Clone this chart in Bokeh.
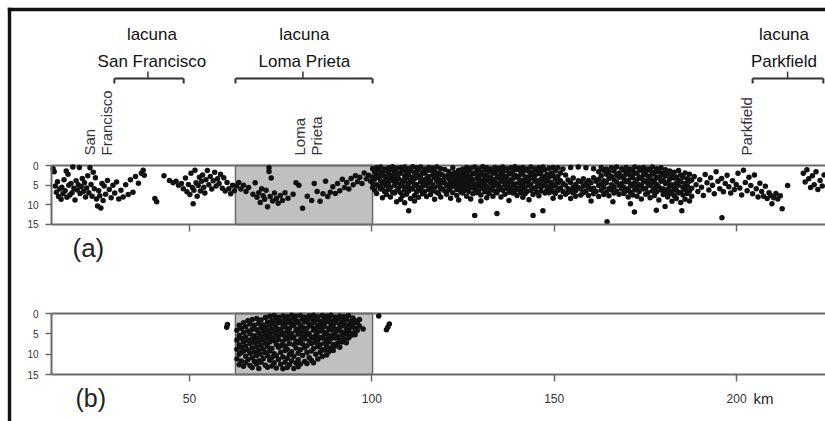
import math
from bokeh.plotting import figure
from bokeh.models import Range1d, FixedTicker, LinearAxis
from bokeh.embed import file_html
from bokeh.resources import INLINE
from bokeh.core.properties import value

FONT = "Liberation Sans"
W, H = 825, 421

# pixel calibration of the reference drawing (used for layout only)
KM0_PX, PX_PER_KM = 6.65, 3.647
A_TOP_PX, A_PX_PER_KM = 165.0, 3.933
B_TOP_PX, B_PX_PER_KM = 313.0, 4.067
BASE_SHIFT = 0.35  # em: empirical offset of the rendered baseline


def kx(px):
    return (px - KM0_PX) / PX_PER_KM


def da(py):
    return (py - A_TOP_PX) / A_PX_PER_KM


def db(py):
    return (py - B_TOP_PX) / B_PX_PER_KM


X_LEFT = kx(51)
X_END = kx(W)

km_ticks = [50, 100, 150, 200]
depth_ticks = [0, 5, 10, 15]

lacuna_names = ["San Francisco", "Loma Prieta", "Parkfield"]
lacuna_start = [29.4, 62.6, 204.4]
lacuna_end = [48.4, 100.2, 223.8]
lacuna_mid = [38.6, 81.1, 214.0]
lacuna_text_x = [39.7, 81.5, 213.0]

place_lines = ["San", "Francisco", "Loma", "Prieta", "Parkfield"]
place_x = [23.9, 28.6, 81.5, 86.2, 204.1]

gap_start, gap_end = 62.6, 100.2

# ---- panel (a): hypocentres (km along fault, depth km) ----
sf_km = [12.6, 12.9, 13.2, 13.5, 13.8, 14.1, 14.4, 14.8, 15.0, 15.3, 15.6, 15.9, 16.2, 16.4, 16.7,
         16.9, 17.2, 17.5, 17.8, 18.0, 18.3, 18.6, 18.9, 19.2, 19.5, 19.8, 20.0, 20.3, 20.6, 20.9,
         21.2, 21.5, 21.8, 22.1, 22.4, 22.7, 23.0, 23.3, 23.6, 23.9, 24.2, 24.5, 24.8, 25.1, 25.4,
         25.7, 26.0, 26.3, 26.6, 27.0, 27.5, 28.0, 28.5, 29.0, 29.5, 30.0, 30.6, 31.2, 31.8, 32.5,
         33.2, 33.8, 34.5, 35.2, 36.0, 36.8, 37.3, 37.6, 40.5, 41.0, 43.0]
sf_depth = [0.8, 1.6, 5.2, 6.8, 4.1, 7.9, 6.0, 8.6, 5.5, 7.2, 3.6, 6.4, 1.4, 8.1, 2.2,
            5.0, 7.5, 4.6, 6.9, 0.4, 5.8, 8.8, 3.9, 6.2, 4.9, 0.5, 7.1, 5.4, 3.3, 6.6,
            4.4, 8.0, 5.7, 2.6, 6.9, 0.6, 4.8, 7.8, 1.7, 5.9, 3.1, 8.5, 10.3, 6.4, 7.7,
            10.8, 4.6, 8.9, 5.2, 7.3, 3.8, 6.1, 8.2, 5.0, 7.0, 4.2, 8.5, 6.3, 8.0, 4.9,
            7.4, 3.6, 6.8, 2.8, 4.5, 2.0, 1.2, 2.5, 8.4, 9.2, 2.6]

west_km = [44.5, 45.5, 46.3, 47.0, 47.8, 48.3, 48.9, 49.3, 49.7, 50.1, 50.4, 50.8, 51.0, 51.2, 51.5,
           51.8, 52.1, 52.4, 52.7, 53.0, 53.3, 53.6, 53.9, 54.2, 54.5, 54.9, 55.3, 55.7, 56.1, 56.5,
           56.9, 57.3, 57.7, 58.1, 58.5, 59.0, 59.4, 59.8, 60.3, 60.8, 61.3, 61.8, 62.3]
west_depth = [3.8, 4.4, 4.0, 5.0, 4.6, 5.9, 3.2, 6.7, 4.8, 7.4, 2.0, 5.6, 9.7, 6.3, 1.2,
              4.4, 7.8, 5.1, 3.0, 6.5, 4.0, 2.4, 5.5, 7.0, 3.6, 1.3, 4.9, 2.8, 6.0, 3.9,
              1.7, 5.2, 3.4, 4.6, 2.2, 5.8, 3.1, 6.5, 4.3, 5.9, 7.2, 5.0, 6.4]

lp_km = [62.9, 63.5, 64.1, 64.8, 65.5, 66.2, 67.4, 68.0, 68.5, 69.0, 69.4, 69.8, 70.2, 70.6, 71.0,
         71.4, 71.8, 71.8, 72.1, 72.4, 72.8, 73.3, 73.8, 74.3, 74.9, 75.5, 76.2, 77.0, 78.4, 79.2,
         80.0, 81.0, 82.3, 83.5, 84.2, 85.0, 85.8, 86.6, 87.3, 87.9, 88.6, 89.3, 90.0, 90.6, 91.2,
         91.9, 92.5, 93.1, 93.7, 94.3, 94.9, 95.5, 96.1, 96.7, 97.3, 97.9, 98.5, 99.1, 99.7]
lp_depth = [5.2, 4.3, 6.0, 5.0, 6.6, 5.6, 7.3, 4.4, 8.1, 6.9, 9.4, 5.9, 7.7, 8.6, 6.3,
            10.5, 0.6, 1.5, 7.9, 3.2, 9.0, 7.0, 8.4, 9.6, 7.6, 8.9, 6.9, 8.3, 7.3, 4.4,
            5.0, 10.9, 7.8, 8.9, 4.6, 6.6, 9.1, 7.2, 4.0, 7.9, 6.8, 5.4, 7.1, 4.6, 6.4,
            3.5, 5.6, 4.3, 6.0, 3.3, 4.9, 2.6, 4.1, 3.0, 4.6, 1.9, 3.4, 2.5, 4.0]

# dense central cloud, listed as columns of depths at each km position
core_km = [100.2, 100.8, 101.3, 101.9, 102.4, 102.9, 103.5, 104.0, 104.6, 105.1, 105.7, 106.2,
           106.8, 107.3, 107.9, 108.4, 109.0, 109.5, 110.1, 110.6, 111.2, 111.7, 112.3, 112.8,
           113.4, 113.9, 114.5, 115.0, 115.6, 116.1, 116.7, 117.2, 117.8, 118.3, 118.9, 119.4,
           120.0, 120.5, 121.1, 121.6, 122.2, 122.7, 123.3, 123.8, 124.4, 124.9, 125.5, 126.0,
           126.6, 127.1, 127.7, 128.2, 128.8, 129.3, 129.9, 130.4, 131.0, 131.5, 132.1, 132.6,
           133.2, 133.7, 134.3, 134.8, 135.4, 135.9, 136.5, 137.0, 137.6, 138.1, 138.7, 139.2,
           139.8, 140.3, 140.9, 141.4, 142.0, 142.5, 143.1, 143.6, 144.2, 144.7, 145.3, 145.8,
           146.4, 146.9, 147.5, 148.0, 148.6, 149.1, 149.7]
core_depths = [
    [0.8, 2.9, 4.4, 5.6], [1.6, 3.5, 6.3], [0.5, 2.2, 4.9, 7.1], [1.2, 3.0, 5.3],
    [0.4, 2.5, 3.9, 6.0], [1.8, 4.6, 5.9, 8.2], [0.9, 2.8, 4.1, 6.6], [1.4, 3.4, 5.1, 7.4],
    [0.6, 2.1, 4.4, 6.1], [1.0, 3.1, 5.5, 8.0], [0.3, 2.4, 3.8, 6.8], [1.5, 3.6, 5.0, 7.0],
    [0.7, 2.6, 4.3, 6.4, 9.2], [1.9, 3.3, 5.7], [0.5, 2.0, 4.7, 6.9, 8.6], [1.2, 3.8, 5.2, 7.7],
    [0.4, 2.7, 4.0, 6.2, 9.5], [1.6, 3.2, 5.4, 7.3], [0.8, 2.3, 4.6, 6.5, 11.5], [1.3, 3.7, 5.8, 8.4],
    [0.3, 2.9, 4.2, 6.0], [1.7, 3.4, 5.1, 7.6, 9.0], [0.6, 2.2, 4.8, 6.7], [1.1, 3.0, 5.6, 8.1],
    [0.4, 2.5, 4.1, 6.3], [1.8, 3.6, 5.3, 7.2], [0.9, 2.0, 4.5, 6.6], [1.4, 3.3, 5.0, 7.9],
    [0.5, 2.8, 4.3, 6.1], [1.2, 3.9, 5.7, 7.4], [0.7, 2.4, 4.9, 6.4], [1.6, 3.1, 5.5, 8.6],
    [0.4, 2.6, 4.0, 6.8], [1.9, 3.5, 5.2, 7.1], [0.8, 2.2, 4.6, 6.0, 8.0], [2.4, 3.8, 5.9],
    [1.0, 3.0, 4.4, 6.5], [2.7, 5.1, 7.3], [1.5, 3.4, 4.8, 6.2], [2.2, 4.1, 5.6, 8.3],
    [0.6, 2.9, 4.5, 6.9], [1.8, 3.7, 5.3], [2.5, 4.2, 6.1, 7.6], [1.2, 3.2, 5.0, 8.8],
    [2.0, 3.9, 5.8, 6.7], [0.9, 2.8, 4.6, 7.0], [1.6, 3.5, 5.4, 6.3], [0.5, 2.3, 4.3, 5.9, 7.8],
    [1.3, 3.1, 4.9, 6.6], [0.7, 2.6, 4.0, 5.6, 8.5], [1.9, 3.6, 5.2, 7.2], [0.4, 2.1, 4.7, 6.0, 12.7],
    [1.4, 3.3, 5.5, 6.9], [0.8, 2.7, 4.4, 6.4], [1.7, 3.8, 5.1, 7.5, 9.0], [0.3, 2.4, 4.1, 5.8],
    [1.1, 3.0, 4.8, 6.7], [0.6, 2.2, 3.9, 5.4, 8.2], [1.5, 3.4, 5.9, 7.1], [0.9, 2.9, 4.5, 6.2],
    [1.8, 3.6, 5.3, 7.8], [0.5, 2.0, 4.2, 6.5], [1.2, 3.2, 5.0, 6.9, 12.2], [0.7, 2.6, 4.6, 6.1],
    [1.6, 3.5, 5.6, 8.0], [0.4, 2.3, 4.0, 6.3], [1.3, 3.1, 4.9, 7.3], [0.8, 2.8, 4.4, 5.8],
    [1.9, 3.7, 5.4, 6.8, 8.9], [0.6, 2.1, 4.1, 6.0], [1.4, 3.3, 5.2, 7.0], [0.3, 2.5, 4.7, 6.4],
    [1.0, 3.0, 5.7, 7.6], [0.7, 2.7, 4.3, 6.2], [1.7, 3.8, 5.1, 6.9], [0.5, 2.2, 4.5, 5.9, 8.1],
    [1.2, 3.4, 5.5, 7.2], [0.9, 2.9, 4.2, 6.6], [1.5, 3.6, 5.0, 8.7], [0.4, 2.4, 4.8, 6.3],
    [1.8, 3.2, 5.8, 7.4, 12.7], [0.8, 2.6, 4.0, 6.0], [1.3, 3.9, 5.3, 6.8], [0.6, 2.1, 4.6, 7.7],
    [1.6, 3.5, 5.6, 6.5], [0.4, 2.8, 4.4, 11.5], [1.1, 3.3, 5.1, 7.0], [2.3, 4.0, 6.2],
    [0.7, 3.0, 5.4, 6.9], [1.9, 4.3, 5.8], [0.5, 2.6, 4.8, 6.6, 8.3],
]

mid_km = [150.3, 151.0, 151.7, 152.4, 153.1, 153.8, 154.5, 155.2, 155.9, 156.6, 157.3, 158.0,
          158.7, 159.4, 160.1, 160.8, 161.5, 162.2, 162.9, 163.6, 164.3, 164.5, 165.0, 165.7,
          166.1, 166.4, 167.1, 167.8, 168.5, 169.1, 169.7, 170.3, 170.9, 171.5, 172.0, 172.1,
          172.7, 173.3, 173.9, 174.5, 175.1, 175.7, 176.3, 176.9, 177.5, 178.0, 178.1, 178.7,
          179.3, 179.9, 180.4, 180.5, 181.1, 181.7, 182.3, 182.9, 183.5, 184.1, 184.7, 185.0,
          185.3, 185.9, 186.5, 187.1, 187.7]
mid_depths = [
    [1.4, 3.5, 5.2, 7.1], [0.6, 2.8, 4.4, 6.3], [1.9, 3.9, 5.7, 8.0], [0.9, 4.6, 6.6],
    [2.4, 5.0, 7.3], [3.7, 5.9, 6.8], [0.5, 4.3, 6.2, 8.4], [3.2, 5.5, 7.0],
    [4.8, 6.4, 7.8], [0.4, 3.9, 5.6], [4.1, 6.0, 7.5], [3.4, 5.2, 6.9],
    [0.6, 4.6, 6.5], [3.8, 5.4, 7.6], [4.4, 6.1, 9.0], [0.8, 3.1, 5.8, 7.2],
    [4.0, 6.6], [1.6, 3.5, 5.1, 7.9], [0.5, 2.6, 4.7, 6.3], [1.3, 3.9, 5.5, 7.4],
    [0.9, 2.2, 4.4, 6.8], [14.3], [1.7, 3.3, 5.9, 7.7], [0.6, 2.8, 4.9, 6.2],
    [9.2], [1.4, 3.6, 5.4, 7.0], [0.4, 2.4, 4.2, 6.5], [1.9, 3.0, 5.1, 7.3],
    [0.8, 2.7, 4.6, 6.0], [1.2, 3.4, 5.5, 7.1], [0.5, 2.2, 4.1, 6.4], [1.7, 3.8, 5.9, 8.0],
    [0.9, 2.6, 4.7, 6.8, 9.7], [1.4, 3.1, 5.2, 7.5], [11.8], [0.4, 2.0, 4.4, 6.2],
    [1.9, 3.6, 5.6, 7.8], [0.7, 2.9, 4.9, 6.6], [1.3, 3.3, 5.3, 8.5], [0.5, 2.4, 4.2, 6.0],
    [1.6, 3.9, 5.8, 7.3], [0.9, 2.7, 4.6, 6.9], [1.2, 3.4, 5.1, 8.2], [0.4, 2.2, 4.4, 6.4],
    [1.8, 3.7, 5.7, 7.6], [11.4], [0.8, 2.9, 4.8, 6.7], [1.5, 3.2, 5.4, 8.8],
    [0.6, 2.5, 4.0, 6.2], [1.9, 3.8, 5.9, 7.4], [10.4], [1.1, 2.7, 4.6, 6.9],
    [2.2, 4.3, 6.1, 8.0], [1.4, 3.5, 5.3, 7.2], [2.6, 4.9, 6.6, 9.1], [1.7, 3.2, 5.7, 7.7],
    [2.9, 4.5, 6.3, 8.4], [1.3, 3.8, 5.0, 7.0], [2.4, 4.1, 6.8, 9.4], [11.5],
    [3.0, 5.5, 7.5], [1.9, 4.6, 6.1, 8.6], [3.4, 5.2, 7.1], [2.2, 4.0, 6.5, 9.0],
    [3.7, 5.8, 7.8],
]

east_km = [188.4, 188.9, 189.4, 189.9, 190.4, 190.9, 191.4, 191.9, 192.4, 192.9, 193.4, 193.9,
           194.4, 194.9, 195.4, 195.9, 196.0, 196.4, 196.9, 197.4, 197.9, 198.4, 198.9, 199.4,
           199.9, 200.4, 200.9, 201.4, 201.9, 202.4, 202.9, 203.4, 203.9, 204.4, 204.9, 205.4,
           205.9, 206.4, 206.9, 207.4, 207.9, 208.4, 208.9, 209.4, 209.7, 210.2, 210.8, 211.3,
           212.0, 212.5, 214.0, 218.3, 218.8, 219.3, 219.8, 220.3, 220.8, 221.3, 221.8, 222.3,
           222.9, 223.5, 224.0]
east_depth = [2.8, 4.9, 6.6, 3.6, 5.5, 7.6, 2.3, 4.4, 6.2, 3.1, 5.0, 7.2,
              1.6, 4.0, 5.9, 3.3, 13.3, 6.7, 4.6, 2.5, 5.4, 7.0, 3.9, 6.1,
              4.8, 2.0, 5.7, 7.5, 1.2, 4.3, 6.4, 3.0, 5.1, 7.2, 2.4, 5.9,
              8.0, 4.5, 6.6, 7.8, 5.3, 8.4, 6.9, 7.6, 9.7, 8.2, 7.1, 8.5,
              7.7, 11.0, 5.1, 2.0, 4.2, 1.1, 3.4, 5.6, 2.6, 4.9, 1.6, 6.1,
              3.8, 5.2, 2.4]

# ---- panel (b): Loma Prieta aftershock zone ----
b_col_km = [63.0, 63.6, 64.2, 64.8, 65.4, 66.0, 66.6, 67.2, 67.8, 68.4, 69.0, 69.6, 70.2, 70.8,
            71.4, 72.0, 72.6, 73.2, 73.8, 74.4, 75.0, 75.6, 76.2, 76.8, 77.4, 78.0, 78.6, 79.2,
            79.8, 80.4, 81.0, 81.6, 82.2, 82.8, 83.4, 84.0, 84.6, 85.2, 85.8, 86.4, 87.0, 87.6,
            88.2, 88.8, 89.4, 90.0, 90.6, 91.2, 91.8, 92.4, 93.0, 93.6, 94.2, 94.8, 95.4, 96.0,
            96.6, 97.6]
b_col_depths = [
    [4.1, 6.5, 8.8, 11.2], [2.9, 5.4, 7.7, 10.0, 12.6], [3.6, 6.1, 8.3, 9.6, 11.7],
    [2.3, 4.7, 7.0, 9.2, 13.0], [3.2, 5.8, 8.0, 10.5, 12.1], [1.8, 4.3, 6.6, 9.0, 11.4],
    [2.6, 5.0, 7.4, 9.8, 12.8], [1.5, 3.9, 6.2, 8.5, 10.9, 13.3], [2.9, 5.5, 7.1, 9.5, 11.8],
    [1.2, 4.0, 6.0, 8.2, 10.3, 12.4], [2.4, 4.8, 6.9, 9.1, 11.6, 13.5], [1.6, 3.5, 5.7, 7.8, 10.0, 12.0],
    [2.8, 4.4, 6.5, 8.7, 11.1], [1.0, 3.3, 5.3, 7.3, 9.6, 12.7], [2.1, 4.1, 6.1, 8.1, 10.4, 13.2],
    [0.7, 2.9, 5.0, 7.0, 9.2, 11.5], [1.8, 3.8, 5.9, 8.6, 10.8, 12.9], [0.5, 2.6, 4.6, 6.7, 9.9, 12.1],
    [1.4, 3.5, 5.5, 7.6, 10.4, 13.4], [0.9, 2.3, 4.3, 6.4, 8.3, 11.3], [1.9, 3.9, 5.2, 7.9, 9.5, 12.5],
    [0.6, 2.7, 4.8, 6.9, 10.7, 13.6], [1.5, 3.3, 5.7, 8.0, 9.1, 12.0], [0.8, 2.2, 4.4, 6.3, 8.8, 11.0, 13.3],
    [1.7, 3.6, 5.4, 7.4, 10.1, 12.6], [0.4, 2.5, 4.9, 6.0, 9.4, 11.7], [1.2, 3.0, 5.8, 7.7, 10.5, 13.5],
    [0.7, 2.3, 4.2, 6.8, 8.5, 12.2], [1.9, 3.8, 5.1, 7.2, 9.8, 11.4, 13.1], [0.5, 2.8, 4.6, 6.4, 8.9, 12.4],
    [1.4, 3.4, 5.6, 7.5, 10.3], [0.9, 2.1, 4.4, 6.2, 8.4, 11.8], [1.7, 3.6, 5.2, 7.9, 9.6, 12.3],
    [0.6, 2.6, 4.9, 6.7, 10.8], [1.3, 3.1, 5.8, 7.4, 9.2, 11.5], [0.4, 2.3, 4.1, 6.1, 8.6, 12.1],
    [1.6, 3.7, 5.4, 7.1, 10.0], [0.8, 2.9, 4.6, 6.6, 8.2, 11.2], [1.9, 3.4, 5.9, 7.7, 9.5],
    [0.5, 2.4, 4.3, 6.0, 8.9, 10.6], [1.2, 3.2, 5.1, 7.3, 9.0], [0.7, 2.0, 4.7, 6.4, 8.1, 10.2],
    [1.5, 3.6, 5.5, 7.0, 9.4], [0.4, 2.6, 4.0, 6.2, 8.5], [1.8, 3.3, 5.2, 7.6, 9.1],
    [0.9, 2.2, 4.5, 6.0, 8.0], [1.4, 3.8, 5.6, 7.3], [0.6, 2.7, 4.2, 6.5, 8.3],
    [1.7, 3.1, 5.3, 7.0], [0.8, 2.4, 4.6, 6.2], [1.5, 3.5, 5.0, 7.2],
    [0.5, 2.8, 4.3, 6.0], [1.9, 3.4, 5.5], [1.1, 2.6, 4.8],
    [1.8, 3.6, 5.2], [2.3, 4.2], [1.5, 3.1], [3.8],
]
b_out_km = [60.2, 60.4, 101.9, 104.0, 104.4, 104.8]
b_out_depth = [3.4, 2.7, 0.6, 4.0, 3.3, 2.6]


def flatten(cols_km, cols_depths):
    xs, ys = [], []
    for k, ds in zip(cols_km, cols_depths):
        for d in ds:
            xs.append(k)
            ys.append(d)
    return xs, ys


core_x, core_y = flatten(core_km, core_depths)
mid_x, mid_y = flatten(mid_km, mid_depths)
a_x = sf_km + west_km + lp_km + core_x + mid_x + east_km
a_y = sf_depth + west_depth + lp_depth + core_y + mid_y + east_depth
b_x, b_y = flatten(b_col_km, b_col_depths)
b_x = b_x + b_out_km
b_y = b_y + b_out_depth

LINE = "#6a6a6a"
TXT = "#111111"
DOT = "#111111"
DOT_SIZE = 5.5

p = figure(width=W, height=H,
           x_range=Range1d(kx(0), kx(W)),
           y_range=Range1d(da(H), da(0)),
           output_backend="svg", toolbar_location=None,
           x_axis_location=None, y_axis_location=None, min_border=0)
p.extra_y_ranges = {"b": Range1d(db(H), db(0))}
p.grid.visible = False
p.outline_line_color = None
p.background_fill_color = "white"
p.border_fill_color = "white"


def make_x_axis(range_name, show_labels):
    ax = LinearAxis(y_range_name=range_name, fixed_location=15,
                    ticker=FixedTicker(ticks=km_ticks), bounds=(X_LEFT, X_END + 5))
    ax.axis_line_color = LINE
    ax.axis_line_width = 2
    ax.major_tick_line_color = LINE
    ax.major_tick_line_width = 1.5
    ax.major_tick_out = 7
    ax.major_tick_in = 0
    ax.minor_tick_line_color = None
    ax.major_label_text_font = FONT
    ax.major_label_text_font_size = "12px"
    ax.major_label_text_color = "#333333"
    ax.major_label_standoff = 12
    if not show_labels:
        ax.major_label_overrides = {t: "" for t in km_ticks}
    p.add_layout(ax, "below")


def make_y_axis(range_name):
    ax = LinearAxis(y_range_name=range_name, fixed_location=X_LEFT,
                    ticker=FixedTicker(ticks=depth_ticks), bounds=(0, 15))
    ax.axis_line_color = LINE
    ax.axis_line_width = 2
    ax.major_tick_line_color = LINE
    ax.major_tick_line_width = 1.5
    ax.major_tick_out = 6
    ax.major_tick_in = 0
    ax.minor_tick_line_color = None
    ax.major_label_text_font = FONT
    ax.major_label_text_font_size = "10px"
    ax.major_label_text_color = "#333333"
    ax.major_label_standoff = 7
    p.add_layout(ax, "left")


# outer black frame of the figure (top and left edges)
p.quad(left=[kx(7.3)], right=[kx(W + 5)], top=[da(7.3)], bottom=[da(10.7)],
       fill_color="#111111", line_color=None)
p.quad(left=[kx(7.3)], right=[kx(10.7)], top=[da(7.3)], bottom=[da(H + 5)],
       fill_color="#111111", line_color=None)

for rn in ("default", "b"):
    p.quad(left=[gap_start], right=[gap_end], top=[0], bottom=[15], y_range_name=rn,
           fill_color="#c0c0c0", line_color=LINE, line_width=1.5)
    p.segment(x0=[X_LEFT], x1=[X_END + 5], y0=[0], y1=[0], y_range_name=rn,
              line_color=LINE, line_width=2)

p.scatter(a_x, a_y, size=DOT_SIZE, marker="circle", fill_color=DOT, line_color=None)
p.scatter(b_x, b_y, size=DOT_SIZE, marker="circle", fill_color=DOT, line_color=None,
          y_range_name="b")

make_x_axis("default", False)
make_x_axis("b", True)
make_y_axis("default")
make_y_axis("b")

# lacuna brackets
yb, yb_end, yb_mid = da(78), da(83), da(71)
n = len(lacuna_names)
p.segment(x0=lacuna_start, x1=lacuna_end, y0=[yb] * n, y1=[yb] * n,
          line_color="#333333", line_width=2)
p.segment(x0=lacuna_start, x1=lacuna_start, y0=[yb] * n, y1=[yb_end] * n,
          line_color="#333333", line_width=2)
p.segment(x0=lacuna_end, x1=lacuna_end, y0=[yb] * n, y1=[yb_end] * n,
          line_color="#333333", line_width=2)
p.segment(x0=lacuna_mid, x1=lacuna_mid, y0=[yb] * n, y1=[yb_mid] * n,
          line_color="#333333", line_width=1.5)

p.text(x=lacuna_text_x, y=[da(40 - BASE_SHIFT * 17)] * n, text=["lacuna"] * n,
       text_font=value(FONT), text_font_size="17px", text_color=TXT,
       text_align="center", text_baseline="alphabetic")
p.text(x=lacuna_text_x, y=[da(67 - BASE_SHIFT * 17)] * n, text=lacuna_names,
       text_font=value(FONT), text_font_size="17px", text_color=TXT,
       text_align="center", text_baseline="alphabetic")

rot_shift_km = BASE_SHIFT * 15 / PX_PER_KM
p.text(x=[v - rot_shift_km for v in place_x], y=[da(155)] * len(place_x), text=place_lines,
       angle=math.pi / 2, text_font=value(FONT), text_font_size="15px", text_color="#333333",
       text_align="left", text_baseline="alphabetic")

p.text(x=[kx(72)], y=[da(256.5 - BASE_SHIFT * 26)], text=["(a)"], text_font=value(FONT),
       text_font_size="26px", text_color="#222222", text_align="left",
       text_baseline="alphabetic")
p.text(x=[kx(75)], y=[db(406 - BASE_SHIFT * 25)], text=["(b)"], text_font=value(FONT),
       text_font_size="25px", text_color="#222222", text_align="left",
       text_baseline="alphabetic", y_range_name="b")
p.text(x=[kx(753)], y=[db(403 - BASE_SHIFT * 15)], text=["km"], text_font=value(FONT),
       text_font_size="15px", text_color="#222222", text_align="left",
       text_baseline="alphabetic", y_range_name="b")

open("out.html", "w").write(file_html(p, INLINE))
